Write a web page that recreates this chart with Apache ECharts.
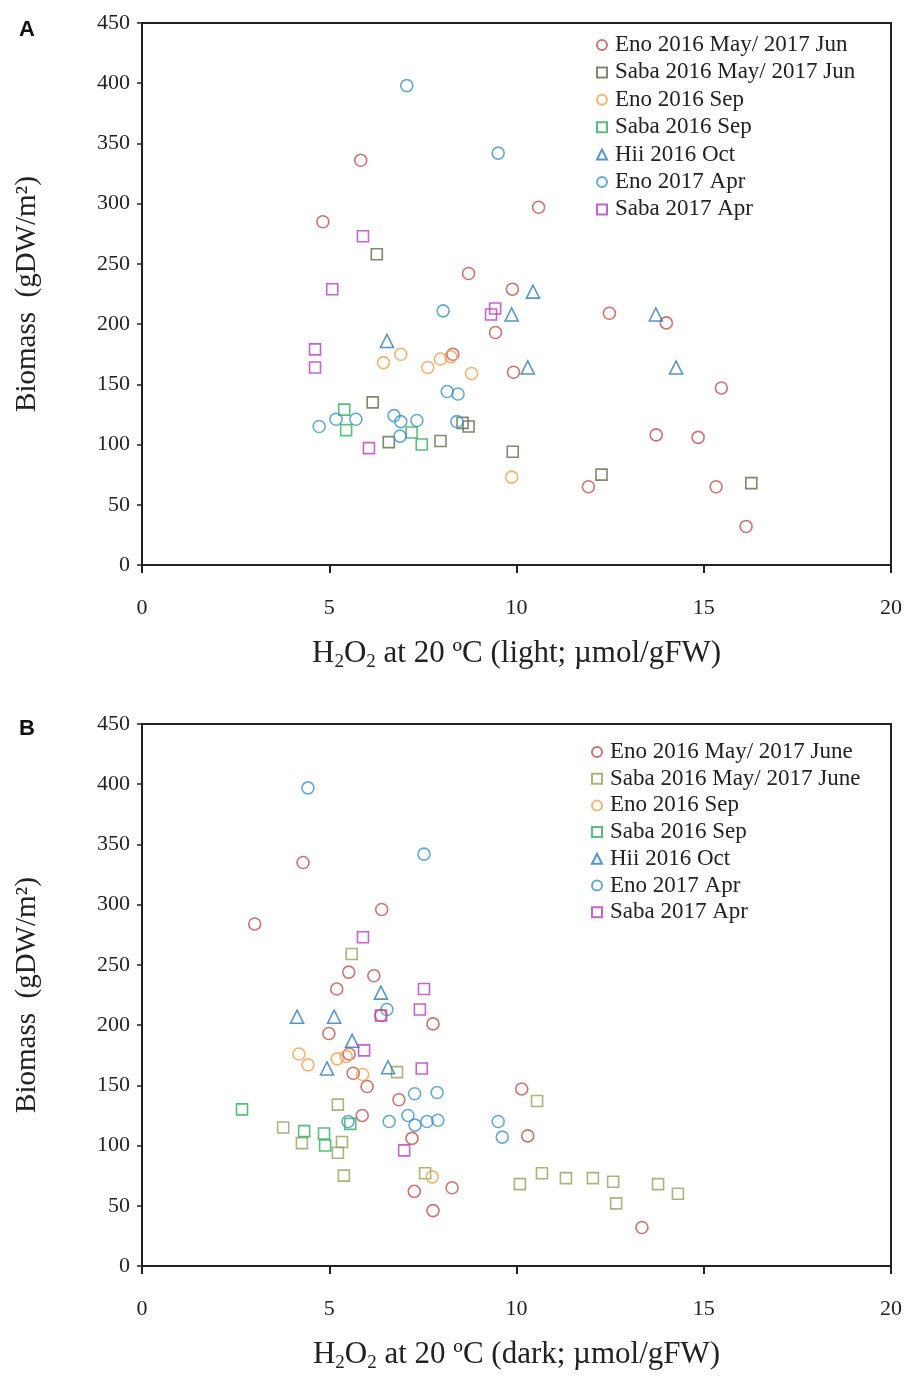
<!DOCTYPE html>
<html>
<head>
<meta charset="utf-8">
<script src="https://cdn.jsdelivr.net/npm/echarts@6/dist/echarts.min.js"></script>
<style>
  html, body { margin: 0; padding: 0; background: #fff; }
  #chart { width: 909px; height: 1379px; }
</style>
</head>
<body>
<div id="chart"></div>
<script>
// ---- Panel A: biomass vs H2O2 (light) ----
const enoMayJunA = [[5.84,336],[4.83,285],[10.59,297],[8.72,242],[9.89,229],[9.44,193],[8.3,175],[9.92,160],[12.48,209],[14.0,201],[15.47,147],[13.73,108],[14.85,106],[11.92,65],[15.33,65],[16.13,32]];
const sabaMayJunA = [[6.27,258],[6.16,135],[6.59,102],[7.97,103],[8.56,118],[8.72,115],[9.9,94],[12.27,75],[16.27,68]];
const enoSepA = [[6.45,168],[6.91,175],[7.63,164],[7.97,171],[8.25,173],[8.8,159],[9.87,73]];
const sabaSepA = [[5.4,129],[5.45,112],[7.2,110],[7.47,100]];
const hiiOctA = [[6.54,186],[9.87,208],[10.44,227],[10.3,164],[13.72,208],[14.26,164]];
const enoAprA = [[7.07,398],[9.51,342],[8.04,211],[8.15,144],[8.44,142],[4.73,115],[5.18,121],[5.71,121],[6.73,124],[6.91,119],[6.89,107],[7.34,120],[8.41,119]];
const sabaAprA = [[5.9,273],[5.08,229],[9.43,213],[9.32,208],[4.62,179],[4.62,164],[6.06,97]];

// ---- Panel B: biomass vs H2O2 (dark) ----
const enoMayJunB = [[4.3,335],[3.01,284],[6.4,296],[5.52,244],[6.19,241],[5.2,230],[4.99,193],[7.77,201],[6.38,208],[5.53,176],[5.64,160],[6.01,149],[6.86,138],[5.88,125],[7.21,106],[10.14,147],[10.3,108],[7.27,62],[8.28,65],[7.77,46],[13.35,32]];
const sabaMayJunB = [[5.6,259],[6.81,161],[5.23,134],[3.77,115],[4.27,102],[5.34,103],[5.23,94],[5.39,75],[7.56,77],[10.55,137],[10.09,68],[10.68,77],[11.32,73],[12.04,73],[12.58,70],[12.66,52],[13.78,68],[14.31,60]];
const enoSepB = [[4.19,176],[4.43,167],[5.21,172],[5.45,174],[5.89,159],[7.75,74]];
const sabaSepB = [[2.67,130],[4.33,112],[4.86,110],[4.89,100],[5.56,118]];
const hiiOctB = [[4.14,207],[5.13,207],[6.38,227],[5.61,187],[4.94,164],[6.57,165]];
const enoAprB = [[4.43,397],[7.53,342],[6.54,213],[7.28,143],[7.88,144],[6.6,120],[7.1,125],[7.29,117],[7.61,120],[7.9,121],[5.5,120],[9.51,120],[9.62,107]];
const sabaAprB = [[5.9,273],[7.53,230],[7.42,213],[6.38,208],[5.93,179],[7.47,164],[7.0,96]];

const namesA = ['Eno 2016 May/ 2017 Jun','Saba 2016 May/ 2017 Jun','Eno 2016 Sep','Saba 2016 Sep','Hii 2016 Oct','Eno 2017 Apr','Saba 2017 Apr'];
const namesB = ['Eno 2016 May/ 2017 June','Saba 2016 May/ 2017 June','Eno 2016 Sep','Saba 2016 Sep','Hii 2016 Oct','Eno 2017 Apr','Saba 2017 Apr'];
const xTicks = [0, 5, 10, 15, 20];
const yTicks = [0, 50, 100, 150, 200, 250, 300, 350, 400, 450];

const SERIF = '"Liberation Serif", "Times New Roman", serif';
const shapes = ['circle','rect','circle','rect','triangle','circle','rect'];
const colorsA = ['#c0504d','#5f6b47','#f0a050','#2fae5a','#2e7ab8','#3f93c8','#b83cc4'];
const colorsB = ['#c0504d','#98a05c','#f0a050','#2fae5a','#2e7ab8','#3f93c8','#b83cc4'];
const dataA = [enoMayJunA, sabaMayJunA, enoSepA, sabaSepA, hiiOctA, enoAprA, sabaAprA];
const dataB = [enoMayJunB, sabaMayJunB, enoSepB, sabaSepB, hiiOctB, enoAprB, sabaAprB];

function sizeFor(shape) {
  return shape === 'rect' ? 11 : (shape === 'triangle' ? 13 : 12);
}

function makeSeries(names, data, colors, idx) {
  return names.map((n, i) => ({
    type: 'scatter',
    name: n,
    xAxisIndex: idx,
    yAxisIndex: idx,
    symbol: shapes[i],
    symbolSize: sizeFor(shapes[i]),
    data: data[i],
    itemStyle: { color: 'rgba(255,255,255,0)', borderColor: colors[i], borderWidth: 1.6 },
    emphasis: { disabled: true },
    z: 3
  }));
}

function xName(cond) {
  return '{t|H}{s|2}{t|O}{s|2}{t| at 20 ºC (' + cond + '; µmol/gFW)}';
}

const nameRich = {
  t: { fontFamily: SERIF, fontSize: 31, color: '#222', lineHeight: 36 },
  s: { fontFamily: SERIF, fontSize: 19, color: '#222', lineHeight: 15, verticalAlign: 'bottom' }
};

function makeX(idx, cond) {
  return {
    gridIndex: idx, type: 'value', min: 0, max: 20, interval: 5,
    name: xName(cond), nameLocation: 'middle', nameGap: 71,
    nameTextStyle: { rich: nameRich },
    axisLine: { show: true, onZero: false, lineStyle: { color: '#222', width: 2 } },
    axisTick: { show: true, length: 8, lineStyle: { color: '#222', width: 2 } },
    axisLabel: { fontFamily: SERIF, fontSize: 22, color: '#222', margin: 32,
                 formatter: v => xTicks.includes(v) ? String(v) : '' },
    splitLine: { show: false }
  };
}

function makeY(idx) {
  return {
    gridIndex: idx, type: 'value', min: 0, max: 450, interval: 50,
    name: 'Biomass  (gDW/m²)', nameLocation: 'middle', nameGap: 100,
    nameTextStyle: { fontFamily: SERIF, fontSize: 29, color: '#222' },
    axisLine: { show: true, lineStyle: { color: '#222', width: 2 } },
    axisTick: { show: true, length: 5, lineStyle: { color: '#222', width: 1.5 } },
    axisLabel: { fontFamily: SERIF, fontSize: 22, color: '#222', margin: 12,
                 formatter: v => yTicks.includes(v) ? String(v) : '' },
    splitLine: { show: false }
  };
}

function makeLegend(names, top, left, gap) {
  return {
    data: names.map((n, i) => ({ name: n, icon: shapes[i] })),
    orient: 'vertical', left: left, top: top,
    itemWidth: 10, itemHeight: 10, itemGap: gap,
    selectedMode: false,
    textStyle: { fontFamily: SERIF, fontSize: 23, color: '#222', lineHeight: 23, padding: [0, 0, 0, 3] }
  };
}

const chart = echarts.init(document.getElementById('chart'), null, { renderer: 'canvas' });
chart.setOption({
  backgroundColor: '#fff',
  animation: false,
  grid: [
    { left: 142, right: 18, top: 23, height: 542, show: true, borderColor: '#222', borderWidth: 2, backgroundColor: 'transparent' },
    { left: 142, right: 18, top: 724, height: 542, show: true, borderColor: '#222', borderWidth: 2, backgroundColor: 'transparent' }
  ],
  xAxis: [makeX(0, 'light'), makeX(1, 'dark')],
  yAxis: [makeY(0), makeY(1)],
  legend: [makeLegend(namesA, 28.5, 591, 4.4), makeLegend(namesB, 735.5, 586, 3.7)],
  graphic: [
    { type: 'text', left: 19, top: 19, style: { text: 'A', fontFamily: '"Liberation Sans", Arial, sans-serif', fontWeight: 'bold', fontSize: 22, fill: '#111' } },
    { type: 'text', left: 19, top: 718, style: { text: 'B', fontFamily: '"Liberation Sans", Arial, sans-serif', fontWeight: 'bold', fontSize: 22, fill: '#111' } }
  ],
  series: [].concat(makeSeries(namesA, dataA, colorsA, 0), makeSeries(namesB, dataB, colorsB, 1))
});
</script>
</body>
</html>
